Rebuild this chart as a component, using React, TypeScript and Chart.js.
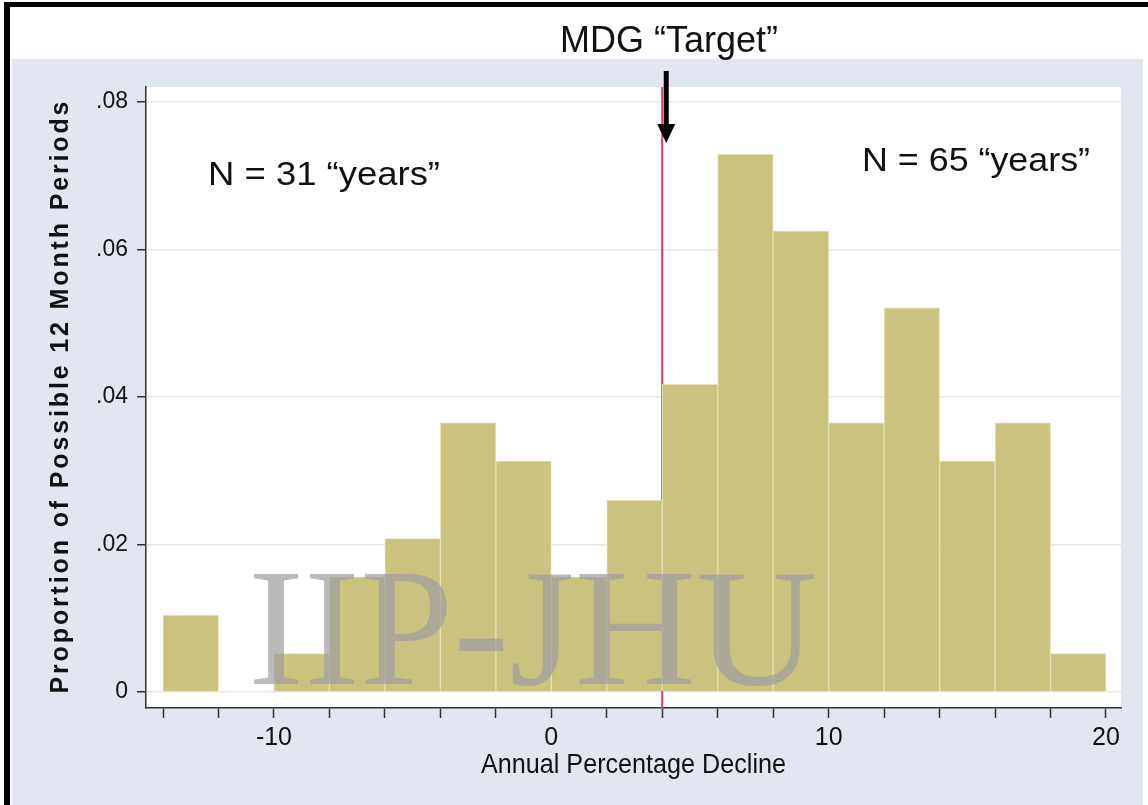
import React, { useEffect, useRef } from "react";
import { Chart, registerables } from "chart.js";

Chart.register(...registerables);

// ---- data ----
const binCenters = [-13, -11, -9, -7, -5, -3, -1, 1, 3, 5, 7, 9, 11, 13, 15, 17, 19];
const proportions = [
  0.0104, 0, 0.0052, 0.0156, 0.0208, 0.0365, 0.0313, 0.0156, 0.026,
  0.0417, 0.0729, 0.0625, 0.0365, 0.0521, 0.0313, 0.0365, 0.0052,
];
const xTickValues = [-14, -12, -10, -8, -6, -4, -2, 0, 2, 4, 6, 8, 10, 12, 14, 16, 18, 20];
const xLabelValues = [-10, 0, 10, 20];
const yTickValues = [0, 0.02, 0.04, 0.06, 0.08];
const targetDecline = 4;
const leftNote = "N = 31 \u201Cyears\u201D";
const rightNote = "N = 65 \u201Cyears\u201D";
const topNote = "MDG \u201CTarget\u201D";
const xTitle = "Annual Percentage Decline";
const yTitle = "Proportion of Possible 12 Month Periods";

const W = 1148;
const H = 805;
const SANS = '"Liberation Sans", Arial, sans-serif';
const SERIF = '"Liberation Serif", "Times New Roman", serif';

function fitText(
  ctx: CanvasRenderingContext2D,
  text: string,
  cx: number,
  cy: number,
  font: string,
  width: number,
  color: string
) {
  ctx.save();
  ctx.font = font;
  const w = ctx.measureText(text).width;
  ctx.translate(cx, cy);
  ctx.scale(width / w, 1);
  ctx.textAlign = "center";
  ctx.textBaseline = "middle";
  ctx.fillStyle = color;
  ctx.fillText(text, 0, 0);
  ctx.restore();
}

const decorPlugin = {
  id: "decor",
  beforeDraw(chart: any) {
    const ctx = chart.ctx as CanvasRenderingContext2D;
    const a = chart.chartArea;
    ctx.save();
    ctx.fillStyle = "#ffffff";
    ctx.fillRect(0, 0, W, H);
    // outer blue-grey graph region
    ctx.fillStyle = "#e1e6f0";
    ctx.fillRect(12, 59, 1131, H - 59);
    // black frame lines
    ctx.fillStyle = "#000000";
    ctx.fillRect(5, 2, W - 5, 5);
    ctx.fillRect(4, 2, 6, H - 2);
    // plot region
    ctx.fillStyle = "#ffffff";
    ctx.fillRect(a.left, a.top, a.right - a.left, a.bottom - a.top);
    ctx.restore();
  },
  beforeDatasetsDraw(chart: any) {
    const ctx = chart.ctx as CanvasRenderingContext2D;
    const a = chart.chartArea;
    const x = chart.scales.x.getPixelForValue(targetDecline);
    ctx.save();
    ctx.strokeStyle = "#d83a6e";
    ctx.lineWidth = 2;
    ctx.beginPath();
    ctx.moveTo(x, a.top);
    ctx.lineTo(x, a.bottom);
    ctx.stroke();
    ctx.restore();
  },
  afterDatasetsDraw(chart: any) {
    const ctx = chart.ctx as CanvasRenderingContext2D;
    // watermark
    ctx.save();
    ctx.font = `168px ${SERIF}`;
    ctx.textAlign = "left";
    ctx.textBaseline = "alphabetic";
    ctx.fillStyle = "rgba(160,160,160,0.72)";
    ctx.fillText("IIP-JHU", 248, 684);
    ctx.restore();
  },
  afterDraw(chart: any) {
    const ctx = chart.ctx as CanvasRenderingContext2D;
    const a = chart.chartArea;
    const xt = chart.scales.x.getPixelForValue(targetDecline);
    // arrow
    const ax = xt + 4;
    ctx.save();
    ctx.fillStyle = "#000000";
    ctx.fillRect(ax - 2.5, 71, 5, 58);
    ctx.beginPath();
    ctx.moveTo(ax - 9, 124);
    ctx.lineTo(ax + 9, 124);
    ctx.lineTo(ax, 143);
    ctx.closePath();
    ctx.fill();
    ctx.restore();

    fitText(ctx, topNote, 669, 42, `37px ${SANS}`, 218, "#111111");
    fitText(ctx, leftNote, 324, 176, `34px ${SANS}`, 232, "#111111");
    fitText(ctx, rightNote, 976, 162, `34px ${SANS}`, 228, "#111111");
    fitText(ctx, xTitle, (a.left + a.right) / 2, 766, `27px ${SANS}`, 305, "#111111");

    // y title with letter spacing
    ctx.save();
    ctx.translate(61, (a.top + a.bottom) / 2);
    ctx.rotate(-Math.PI / 2);
    ctx.font = `bold 25px ${SANS}`;
    const target = 592;
    const natural = ctx.measureText(yTitle).width;
    const spacing = (target - natural) / (yTitle.length - 1);
    (ctx as any).letterSpacing = `${spacing}px`;
    ctx.textAlign = "center";
    ctx.textBaseline = "middle";
    ctx.fillStyle = "#111111";
    ctx.fillText(yTitle, spacing / 2, 0);
    ctx.restore();
  },
};

export default function App() {
  const ref = useRef<HTMLCanvasElement | null>(null);

  useEffect(() => {
    if (!ref.current) return;
    const chart = new Chart(ref.current, {
      type: "bar",
      data: {
        datasets: [
          {
            data: binCenters.map((x, i) => ({ x, y: proportions[i] })),
            backgroundColor: "#c9c37f",
            borderColor: "#e4e0b4",
            borderWidth: 1,
            borderSkipped: "bottom",
            barPercentage: 1,
            categoryPercentage: 1,
          },
        ],
      },
      options: {
        responsive: false,
        maintainAspectRatio: false,
        animation: false,
        layout: { padding: { left: 0, right: 27, top: 87, bottom: 0 } },
        plugins: {
          legend: { display: false },
          tooltip: { enabled: false },
          title: { display: false },
        },
        scales: {
          x: {
            type: "linear",
            offset: false,
            min: -14.613,
            max: 20.541,
            afterFit(scale: any) {
              scale.height = 97;
            },
            afterBuildTicks(scale: any) {
              scale.ticks = xTickValues.map((v) => ({ value: v }));
            },
            grid: {
              offset: false,
              drawOnChartArea: false,
              drawTicks: true,
              tickLength: 10,
              tickColor: "#333333",
              tickWidth: 1.5,
            },
            border: { display: true, color: "#333333", width: 1.5 },
            ticks: {
              autoSkip: false,
              maxRotation: 0,
              padding: 5,
              color: "#111111",
              font: { family: SANS, size: 25 },
              callback: (v: any) => (xLabelValues.includes(Number(v)) ? String(v) : ""),
            },
          },
          y: {
            type: "linear",
            min: -0.00217,
            max: 0.08203,
            afterFit(scale: any) {
              scale.width = 146;
            },
            afterBuildTicks(scale: any) {
              scale.ticks = yTickValues.map((v) => ({ value: v }));
            },
            grid: {
              drawOnChartArea: true,
              color: "#e8e8e8",
              lineWidth: 1.5,
              drawTicks: true,
              tickLength: 9,
              tickColor: "#333333",
              tickWidth: 1.5,
            },
            border: { display: true, color: "#333333", width: 1.5 },
            ticks: {
              padding: 9,
              color: "#111111",
              font: { family: SANS, size: 23 },
              callback: (v: any) => {
                const n = Number(v);
                return n === 0 ? "0" : n.toFixed(2).replace(/^0/, "");
              },
            },
          },
        },
      },
      plugins: [decorPlugin],
    });
    return () => chart.destroy();
  }, []);

  return (
    <div style={{ position: "absolute", left: 0, top: 0, width: W, height: H }}>
      <canvas ref={ref} width={W} height={H} style={{ width: W, height: H, display: "block" }} />
    </div>
  );
}
